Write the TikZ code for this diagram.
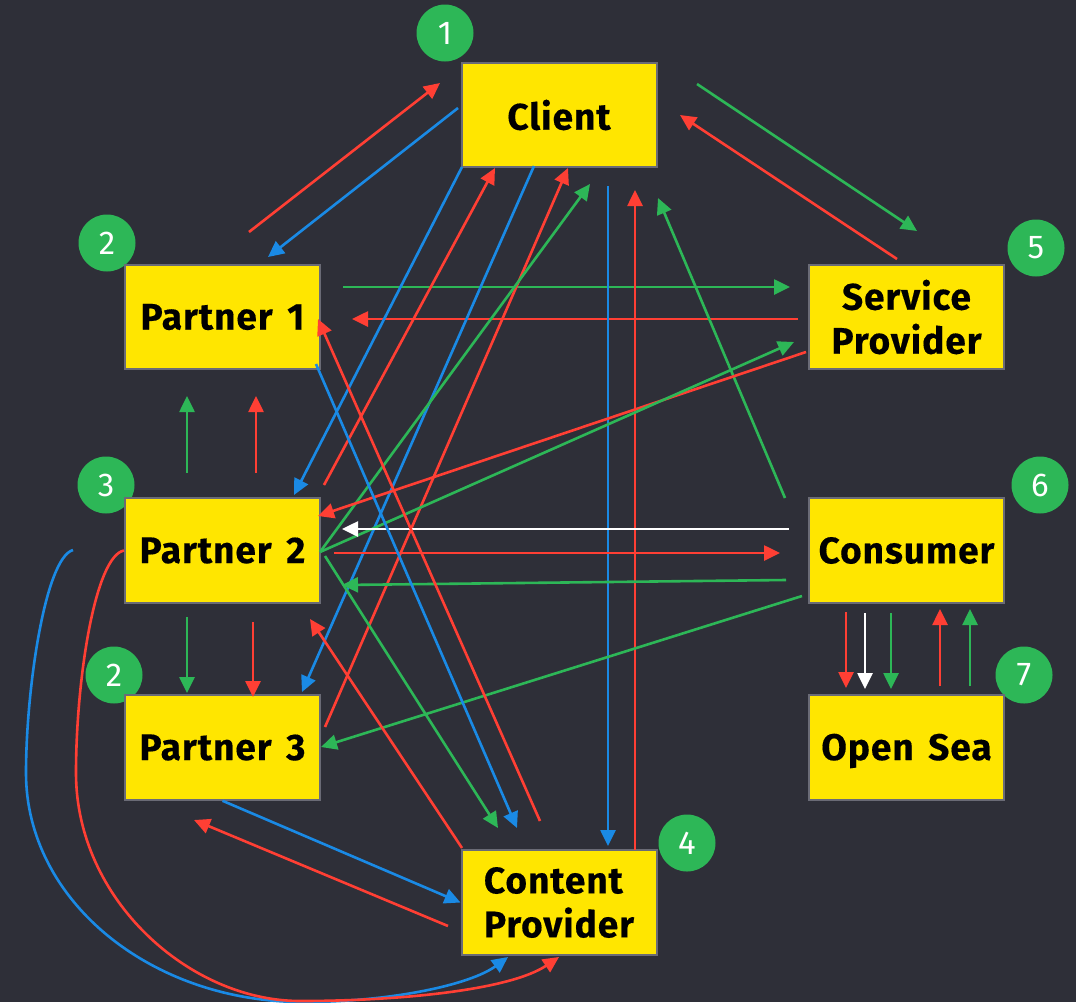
\documentclass[tikz,border=0pt]{standalone}
\usepackage{fontspec}
\setmainfont{Fira Sans}[BoldFeatures={LetterSpace=2.6,FakeBold=0.35,WordSpace=1.5}]
\usetikzlibrary{arrows.meta}
\definecolor{bgc}{HTML}{2E2F38}
\definecolor{boxy}{HTML}{FFE600}
\definecolor{edgeg}{HTML}{6A6B76}
\definecolor{cred}{HTML}{FF3F34}
\definecolor{cblue}{HTML}{1A8AE5}
\definecolor{cgreen}{HTML}{2DB757}
\tikzset{
  box/.style={draw=edgeg,line width=2pt,fill=boxy,minimum width=195pt,minimum height=104.5pt,inner sep=0pt,align=center,font=\fontsize{37}{44}\selectfont\bfseries,text=black},
  badge/.style={circle,fill=cgreen,minimum size=57pt,inner sep=0pt,text=white,font=\fontsize{33}{38}\selectfont},
  conn/.style={line width=2.6pt,-{Triangle[length=16pt,width=15pt]}},
}
\newcommand{\conn}[4]{\coordinate (#1-s) at (#3);\coordinate (#1-e) at (#4);\draw[conn,#2] (#1-s) -- (#1-e);}
\begin{document}
\begin{tikzpicture}[x=1pt,y=-1pt]
\useasboundingbox (0,0) rectangle (1076,1002);
\fill[bgc] (0,0) rectangle (1076,1002);
% badges
\node[badge] (b1) at (445,33) {1};
\node[badge] (b2a) at (107,243) {2};
\node[badge] (b5) at (1036,248) {5};
\node[badge] (b3) at (106,485) {3};
\node[badge] (b6) at (1040,485) {6};
\node[badge] (b2b) at (114,675) {2};
\node[badge] (b7) at (1024,675) {7};
\node[badge] (b4) at (687,843) {4};
% boxes
\node[box] (client) at (559,115) {Client};
\node[box] (p1) at (222.5,317) {Partner 1};
\node[box] (sp) at (906.5,317) {Service\\Provider};
\node[box] (p2) at (222.5,550.5) {Partner 2};
\node[box] (cons) at (906.5,550.5) {Consumer};
\node[box] (p3) at (222.5,747.5) {Partner 3};
\node[box] (sea) at (906.5,747.5) {\smash{Open Sea}\vphantom{Partner}};
\node[box,align=left] (cp) at (559,902.5) {Content\\Provider};
% connectors
\conn{a1}{cred}{249,232}{440,83}
\conn{a2}{cblue}{458,108}{268,257}
\conn{a3}{cgreen}{697,84}{917,231}
\conn{a4}{cred}{897,259}{680,115}
\conn{a5}{cgreen}{343,287}{790,287}
\conn{a6}{cred}{798,319}{352,319}
\conn{a7}{cblue}{462,167}{294,495}
\conn{a8}{cred}{324,485}{495,168}
\conn{a9}{cblue}{534,166}{302,692}
\conn{a10}{cred}{325,727}{568,168}
\conn{a11}{cgreen}{320,552}{590,184}
\conn{a12}{cblue}{608,186}{608,846}
\conn{a13}{cred}{635,850}{635,190}
\conn{a14}{cgreen}{785,498}{658,198}
\conn{a15}{cred}{806,352}{318,516}
\conn{a16}{cgreen}{320,552}{794,342}
\conn{a17}{white}{789,529}{342,529}
\conn{a18}{cred}{334,553}{780,553}
\conn{a19}{cgreen}{786,580}{342,585}
\conn{a20}{cgreen}{802,596}{321,747}
\conn{a21}{cblue}{316,364}{517,828}
\conn{a22}{cred}{540,821}{318,319}
\conn{a23}{cgreen}{325,556}{498,828}
\conn{a24}{cred}{462,848}{310,619}
\conn{a25}{cgreen}{187,473}{187,396}
\conn{a26}{cred}{256,473}{256,396}
\conn{a27}{cgreen}{187,617}{187,693}
\conn{a28}{cred}{253,622}{253,697}
\draw[conn,cblue] (p3.south) -- (cp.west);
\conn{a30}{cred}{448,926}{194,820}
\conn{a31}{cred}{846,612}{846,688}
\conn{a32}{white}{865,613}{865,689}
\conn{a33}{cgreen}{891,613}{891,689}
\conn{a34}{cred}{940,686}{940,609}
\conn{a35}{cgreen}{970,686}{970,609}
% curves
\coordinate (c1s) at (73,550);
\coordinate (c1e) at (508,957);
\draw[conn,cblue] (c1s) .. controls (45,558) and (26,690) .. (26,773) .. controls (26,900) and (150,1002) .. (303,1002) .. controls (390,1002) and (470,985) .. (c1e);
\coordinate (c2e) at (559,957);
\draw[conn,cred] (p2.west) .. controls (95,556) and (76,680) .. (76,773) .. controls (76,900) and (190,1001) .. (300,1001) .. controls (400,1001) and (510,990) .. (c2e);
\end{tikzpicture}
\end{document}
